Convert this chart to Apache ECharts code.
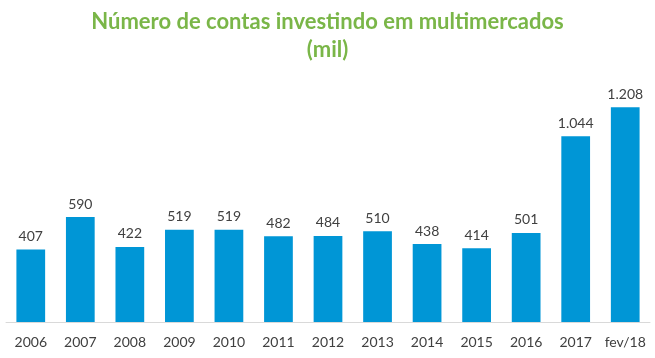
<!DOCTYPE html>
<html><head><meta charset="utf-8">
<script src="https://cdn.jsdelivr.net/npm/echarts@6/dist/echarts.min.js"></script>
<style>html,body{margin:0;padding:0;background:#fff}#c{width:655px;height:358px}</style>
</head><body><div id="c"></div>
<script>
const categories = ['2006','2007','2008','2009','2010','2011','2012','2013','2014','2015','2016','2017','fev/18'];
const values = [407,590,422,519,519,482,484,510,438,414,501,1044,1208];
const titleLines = ['Número de contas investindo em multimercados','(mil)'];

function fmt(v){ return String(v).replace(/\B(?=(\d{3})+(?!\d))/g,'.'); }

const chart = echarts.init(document.getElementById('c'));
chart.setOption({
  animation:false,
  title:{text:titleLines.join('\n'),left:'center',top:3,
    textStyle:{fontFamily:'Lato',fontWeight:'bold',fontSize:22,color:'#7ab648',lineHeight:28}},
  grid:{left:6,right:5,top:73,bottom:36},
  xAxis:{type:'category',data:categories,
    axisLine:{lineStyle:{color:'#d9d9d9'}},axisTick:{show:false},
    axisLabel:{interval:0,color:'#404040',fontFamily:'Lato',fontSize:14,margin:13}},
  yAxis:{type:'value',min:0,max:1400,show:false,splitLine:{show:false}},
  series:[{type:'bar',data:values,barWidth:'58%',itemStyle:{color:'#0096d6'},
    label:{show:true,position:'top',distance:6,color:'#404040',fontFamily:'Lato',fontSize:14,
      formatter:p=>fmt(p.value)}}]
});
</script></body></html>
